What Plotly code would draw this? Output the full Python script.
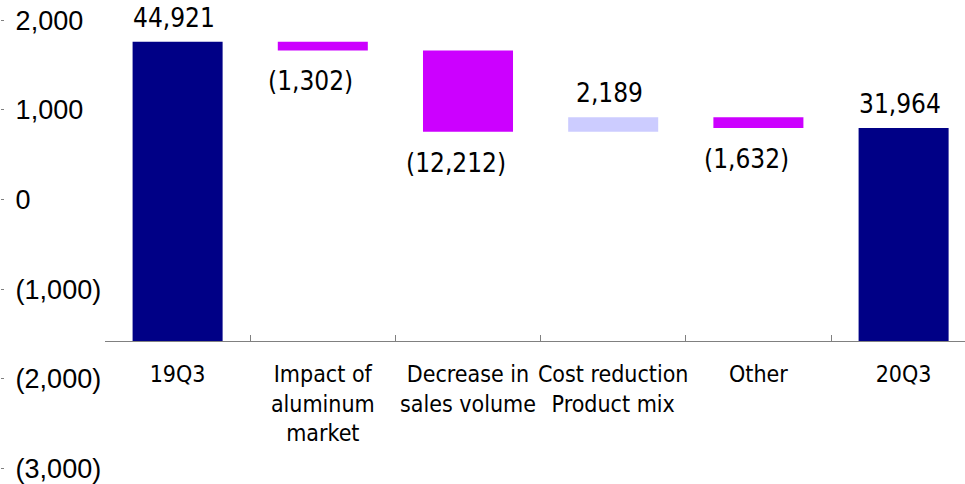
import plotly.graph_objects as go

# Bridge from 19Q3 to 20Q3
categories = ["19Q3", "Impact of<br>aluminum<br>market", "Decrease in<br>sales volume",
              "Cost reduction<br>Product mix", "Other", "20Q3"]
measures = ["absolute", "relative", "relative", "relative", "relative", "total"]
values = [44921, -1302, -12212, 2189, -1632, None]

# Left-hand scale labels
scale_vals = [2000, 1000, 0, -1000, -2000, -3000]
scale_text = ["2,000", "1,000", "0", "(1,000)", "(2,000)", "(3,000)"]


def fmt(v):
    return f"({abs(v):,.0f})" if v < 0 else f"{v:,.0f}"


# bar start/end for each step, so labels sit at the bar ends
starts, ends, shown = [], [], []
acc = 0
for m, v in zip(measures, values):
    if m == "absolute":
        starts.append(0); acc = v; ends.append(acc); shown.append(v)
    elif m == "relative":
        starts.append(acc); acc += v; ends.append(acc); shown.append(v)
    else:
        starts.append(0); ends.append(acc); shown.append(acc)

W, H = 965, 484
PLOT_LEFT = 105          # px where the category axis starts
CAT_PX = 145.2           # px per category slot
AXIS_ROW = 341           # px row of the category axis (bar base)
UNITS_PER_PX = 150.1     # bar units per px
SCALE_ZERO_ROW = 199.5   # px row of the "0" scale label
SCALE_PX_PER_1000 = 89.7

NAVY = "#000086"
MAGENTA = "#CC00FF"
LAVENDER = "#CCCCFF"
NARROW = ("Liberation Sans Narrow, Arial Narrow, DejaVu Sans Condensed, "
          "Liberation Sans, sans-serif")

fig = go.Figure(go.Waterfall(
    x=categories,
    y=values,
    measure=measures,
    textinfo="none",
    cliponaxis=False,
    width=0.62,
    connector=dict(visible=False),
    increasing=dict(marker=dict(color=LAVENDER, line=dict(width=0))),
    decreasing=dict(marker=dict(color=MAGENTA, line=dict(width=0))),
    totals=dict(marker=dict(color=NAVY, line=dict(width=0))),
    hoverinfo="x+y",
    showlegend=False,
))

# carrier for the left-hand scale (no visible marks)
fig.add_trace(go.Scatter(
    x=[categories[0]] * len(scale_vals), y=scale_vals, yaxis="y2",
    mode="markers", marker=dict(opacity=0, size=1),
    hoverinfo="skip", showlegend=False,
))

# value labels: above the bar for gains/totals, below it for losses
for cat, s, e, v in zip(categories, starts, ends, shown):
    neg = v < 0
    fig.add_annotation(
        x=cat, y=min(s, e) if neg else max(s, e), xref="x", yref="y",
        text=fmt(v), showarrow=False,
        yanchor="middle", yshift=-31 if neg else 24, xshift=-12 if neg else -4,
        font=dict(family=NARROW, size=26, color="black"),
    )

x_end = -0.5 + (W - PLOT_LEFT) / CAT_PX
bar_range = [-(H - AXIS_ROW) * UNITS_PER_PX, AXIS_ROW * UNITS_PER_PX]
scale_range = [-(H - SCALE_ZERO_ROW) / SCALE_PX_PER_1000 * 1000,
               SCALE_ZERO_ROW / SCALE_PX_PER_1000 * 1000]

fig.update_layout(
    width=W, height=H,
    margin=dict(l=0, r=0, t=0, b=0),
    paper_bgcolor="white",
    plot_bgcolor="white",
    xaxis=dict(
        domain=[PLOT_LEFT / W, 1],
        range=[-0.5, x_end],
        anchor="free",
        position=(H - AXIS_ROW) / H,
        showline=True, linecolor="#808080", linewidth=1,
        ticks="inside", tickson="boundaries", ticklen=6, tickcolor="#808080",
        showgrid=False, zeroline=False,
        tickangle=0,
        tickfont=dict(family=NARROW, size=23, color="black"),
        ticklabelstandoff=12,
    ),
    yaxis=dict(
        range=bar_range,
        showticklabels=False, showgrid=False, zeroline=False, showline=False,
        ticks="",
    ),
    yaxis2=dict(
        overlaying="y",
        anchor="free",
        position=0,
        side="left",
        range=scale_range,
        tickmode="array",
        tickvals=scale_vals,
        ticktext=scale_text,
        ticks="inside", ticklen=3, tickcolor="#808080",
        ticklabelposition="inside",
        ticklabeloverflow="allow",
        ticklabelstandoff=14,
        showgrid=False, zeroline=False, showline=False,
        tickfont=dict(family="Liberation Sans, Arial, sans-serif", size=27, color="black"),
    ),
)

fig.write_html("out.html")
